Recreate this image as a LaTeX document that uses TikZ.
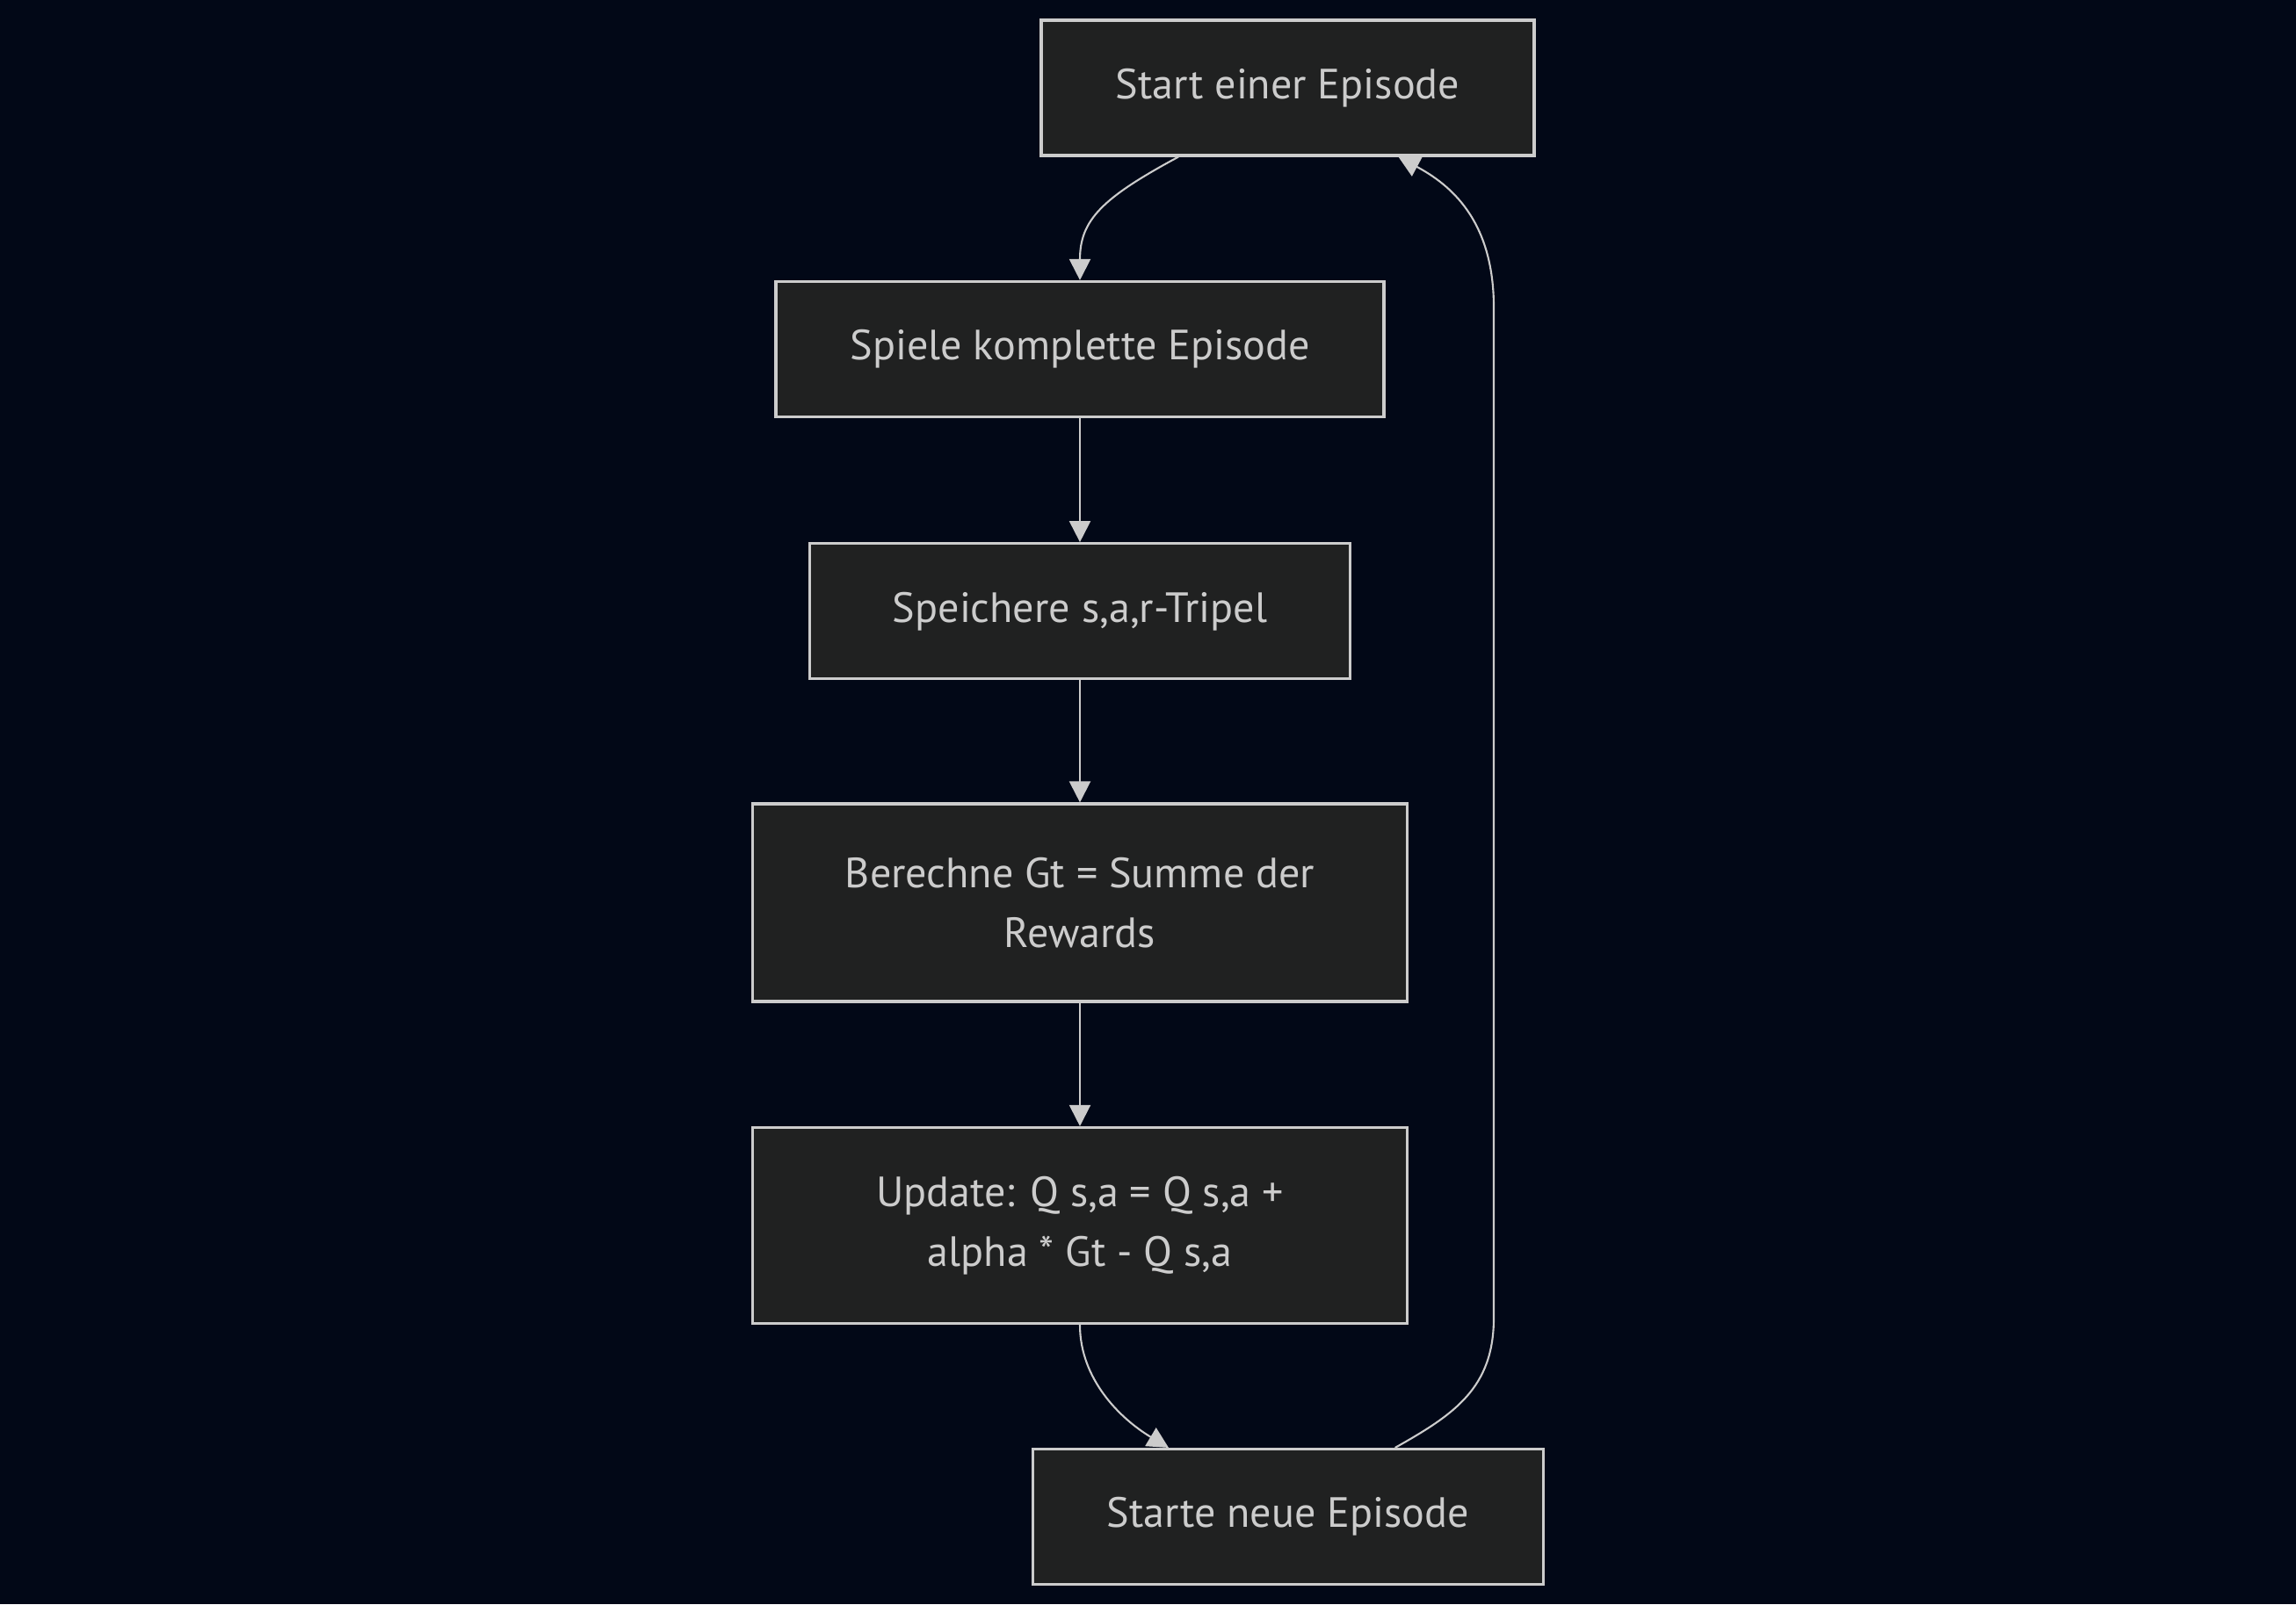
\documentclass[tikz,border=0pt]{standalone}
\usepackage{fontspec}
\setmainfont{PT Sans}
\usepackage{tikz}
\usetikzlibrary{arrows.meta}

\definecolor{bgnavy}{RGB}{2,8,23}
\definecolor{boxfill}{RGB}{32,33,33}
\definecolor{linegrey}{RGB}{204,204,204}

\begin{document}
\begin{tikzpicture}[
    component/.style={rectangle, draw=linegrey, fill=boxfill, line width=0.9pt, text=linegrey, align=center, font=\fontsize{13.7}{19.5}\selectfont, minimum height=1.54cm},
    arrow/.style={-{Triangle[length=0.24cm,width=0.24cm]}, draw=linegrey, line width=0.6pt}
]

% Background and page size
\fill[bgnavy] (0,0) rectangle (26.13,-18.26);
\useasboundingbox (0,0) rectangle (26.13,-18.26);

% Start
\node[component, minimum width=5.61cm] at (14.655,-1.0) (start) {Start einer Episode};

% Main steps
\node[component, minimum width=6.92cm] at (12.29,-3.975) (spiele) {Spiele komplette Episode};
\node[component, minimum width=6.15cm] at (12.29,-6.957) (speichere) {Speichere s,a,r-Tripel};
\node[component, minimum width=7.45cm, minimum height=2.25cm] at (12.29,-10.275) (berechne) {Berechne Gt = Summe der\\Rewards};
\node[component, minimum width=7.45cm, minimum height=2.23cm] at (12.29,-13.95) (update) {Update: Q s,a = Q s,a +\\alpha * Gt - Q s,a};

% Restart
\node[component, minimum width=5.81cm] at (14.657,-17.265) (starte) {Starte neue Episode};

% Arrows down the chain
\draw[arrow] ([xshift=-1.245cm]start.south) .. controls (12.55,-2.25) and (12.29,-2.5) .. (spiele.north);
\draw[arrow] (spiele) -- (speichere);
\draw[arrow] (speichere) -- (berechne);
\draw[arrow] (berechne) -- (update);
\draw[arrow] (update.south) .. controls (12.29,-15.7) and (12.75,-16.15) .. ([xshift=-1.357cm]starte.north);

% Loop back to the start
\draw[arrow] ([xshift=1.22cm]starte.north) .. controls (16.55,-16.1) and (17.0,-15.8) .. (17.0,-15.0)
    -- (17.0,-3.5) .. controls (17.0,-2.5) and (16.5,-2.1) .. ([xshift=1.26cm]start.south);

\end{tikzpicture}
\end{document}
